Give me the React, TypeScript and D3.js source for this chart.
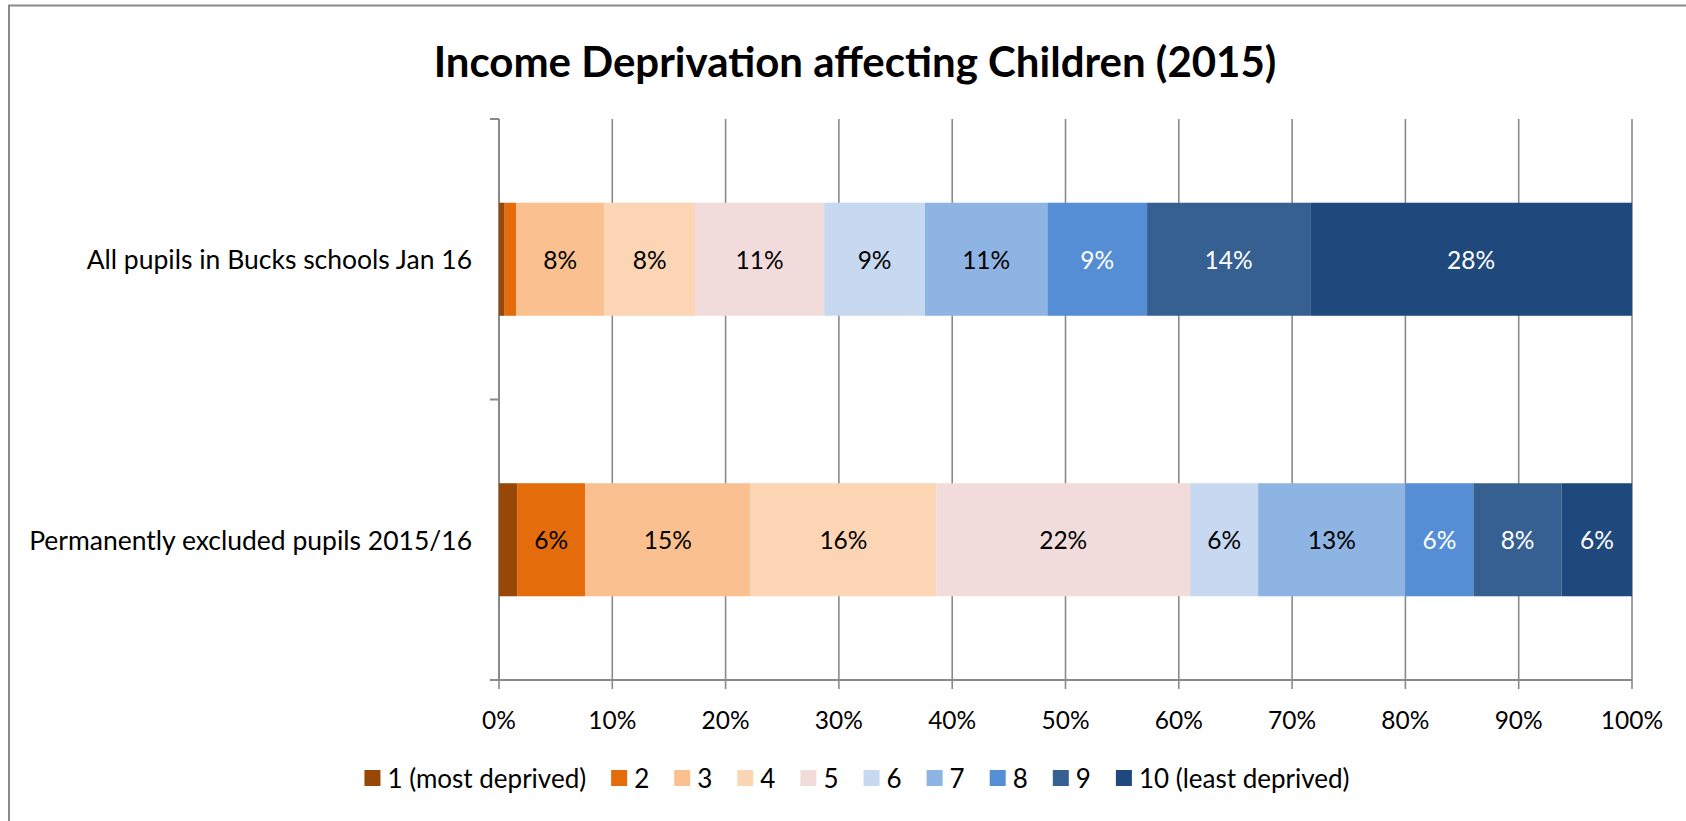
import React, { useEffect, useRef } from "react";
import * as d3 from "d3";

const categories = ["All pupils in Bucks schools Jan 16", "Permanently excluded pupils 2015/16"];
const deciles = ["1 (most deprived)", "2", "3", "4", "5", "6", "7", "8", "9", "10 (least deprived)"];
const allPupils = [0.5, 1.0, 7.8, 8.0, 11.4, 8.9, 10.8, 8.8, 14.4, 28.4];
const excludedPupils = [1.6, 6.0, 14.6, 16.4, 22.4, 6.0, 13.0, 6.0, 7.8, 6.2];
const colors = ["#974706", "#E46C0A", "#FAC090", "#FCD5B5", "#F2DCDB", "#C6D9F1", "#8EB4E3", "#558ED5", "#376092", "#1F497D"];
const labelColors = ["#000", "#000", "#000", "#000", "#000", "#000", "#000", "#fff", "#fff", "#fff"];
const xTicks = [0, 10, 20, 30, 40, 50, 60, 70, 80, 90, 100];
const title = "Income Deprivation affecting Children (2015)";

const W = 1686;
const H = 821;
const FONT = "Lato, 'Open Sans', sans-serif";

export default function App() {
  const ref = useRef<SVGSVGElement>(null);

  useEffect(() => {
    const svg = d3.select(ref.current);
    svg.selectAll("*").remove();

    const left = 499, right = 1632, top = 119, bottom = 680;
    const x = d3.scaleLinear().domain([0, 100]).range([left, right]);
    const y = d3.scaleBand<string>().domain(categories).range([top, bottom]).paddingInner(0.597).paddingOuter(0.2985);

    svg.append("rect").attr("x", 9).attr("y", 5.5).attr("width", 1700).attr("height", 900)
      .attr("fill", "#fff").attr("stroke", "#898989").attr("stroke-width", 2);

    svg.append("text").attr("x", 855).attr("y", 61).attr("text-anchor", "middle").attr("dominant-baseline", "central")
      .attr("font-family", FONT).attr("font-weight", 700).attr("font-size", 42).attr("fill", "#000").text(title);

    const grid = "#8a8a8a";
    svg.append("g").selectAll("line").data(xTicks).join("line")
      .attr("x1", d => x(d)).attr("x2", d => x(d)).attr("y1", top).attr("y2", bottom + 9)
      .attr("stroke", grid).attr("stroke-width", 1.6);

    svg.append("line").attr("x1", left).attr("x2", left).attr("y1", top).attr("y2", bottom).attr("stroke", grid).attr("stroke-width", 2);
    const yb = [top, (top + bottom) / 2, bottom];
    svg.append("g").selectAll("line").data(yb).join("line")
      .attr("x1", left - 9).attr("x2", left).attr("y1", d => d).attr("y2", d => d)
      .attr("stroke", grid).attr("stroke-width", 2);
    svg.append("line").attr("x1", left - 9).attr("x2", right).attr("y1", bottom).attr("y2", bottom).attr("stroke", grid).attr("stroke-width", 2);

    const rows = categories.map((c, i) => {
      const vals = i === 0 ? allPupils : excludedPupils;
      const o: any = { cat: c };
      deciles.forEach((d, j) => (o[d] = vals[j]));
      return o;
    });
    const stack = d3.stack<any>().keys(deciles)(rows);
    stack.forEach((layer, li) => {
      const g = svg.append("g");
      g.selectAll("rect").data(layer).join("rect")
        .attr("x", d => x(d[0])).attr("width", d => x(d[1]) - x(d[0]))
        .attr("y", d => y(d.data.cat)!).attr("height", y.bandwidth())
        .attr("fill", colors[li]);
      g.selectAll("text").data(layer.filter(d => d[1] - d[0] >= 2)).join("text")
        .attr("x", d => (x(d[0]) + x(d[1])) / 2).attr("y", d => y(d.data.cat)! + y.bandwidth() / 2)
        .attr("text-anchor", "middle").attr("dominant-baseline", "central")
        .attr("font-family", FONT).attr("font-size", 24.5).attr("fill", labelColors[li])
        .text(d => `${Math.round(d[1] - d[0])}%`);
    });

    svg.append("g").selectAll("text").data(categories).join("text")
      .attr("x", 472).attr("y", d => y(d)! + y.bandwidth() / 2)
      .attr("text-anchor", "end").attr("dominant-baseline", "central")
      .attr("font-family", FONT).attr("font-size", 26.5).attr("fill", "#000").text(d => d);

    svg.append("g").selectAll("text").data(xTicks).join("text")
      .attr("x", d => x(d)).attr("y", 719)
      .attr("text-anchor", "middle").attr("dominant-baseline", "central")
      .attr("font-family", FONT).attr("font-size", 24.5).attr("fill", "#000").text(d => `${d}%`);

    const lg = svg.append("g");
    const sq = 16, gapT = 7, gapI = 25;
    let cx = 0;
    deciles.forEach((d, i) => {
      const item = lg.append("g").attr("transform", `translate(${cx},0)`);
      item.append("rect").attr("x", 0).attr("y", 778 - sq / 2).attr("width", sq).attr("height", sq).attr("fill", colors[i]);
      const t = item.append("text").attr("x", sq + gapT).attr("y", 778).attr("dominant-baseline", "central")
        .attr("font-family", FONT).attr("font-size", 26).attr("fill", "#000").text(d);
      const w = (t.node() as SVGTextElement).getComputedTextLength();
      cx += sq + gapT + w + gapI;
    });
    const total = cx - gapI;
    lg.attr("transform", `translate(${857 - total / 2},0)`);
  }, []);

  return (
    <svg ref={ref} width={W} height={H} style={{ position: "absolute", left: 0, top: 0, background: "#fff" }} />
  );
}
